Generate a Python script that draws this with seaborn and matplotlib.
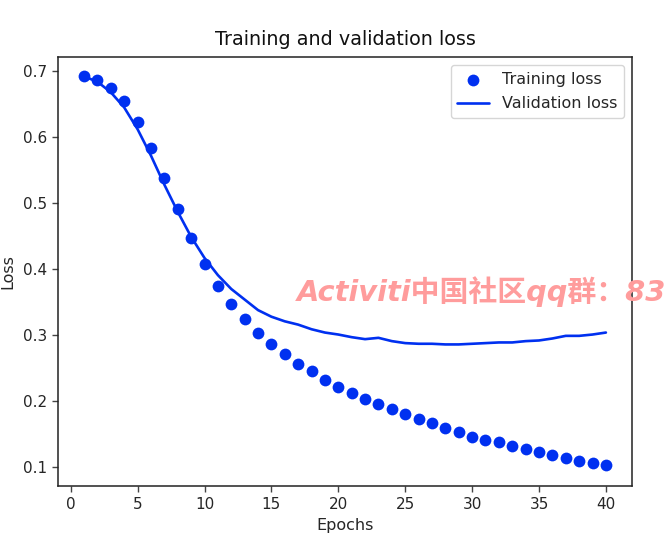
import matplotlib
matplotlib.use("Agg")
import matplotlib.pyplot as plt
import seaborn as sns

epochs = list(range(1, 41))
train_loss = [.692, .686, .674, .655, .623, .583, .538, .491, .447, .408,
              .374, .348, .324, .304, .286, .271, .256, .245, .232, .222,
              .212, .204, .195, .188, .180, .173, .167, .159, .153, .146,
              .141, .138, .132, .127, .123, .118, .114, .109, .106, .103]
val_loss = [.692, .684, .668, .645, .612, .572, .528, .487, .449, .417,
            .391, .370, .354, .338, .328, .321, .316, .309, .304, .301,
            .297, .294, .296, .291, .288, .287, .287, .286, .286, .287,
            .288, .289, .289, .291, .292, .295, .299, .299, .301, .304]

blue = "#0030f0"

sns.set_style("ticks")
plt.rcParams["font.family"] = ["DejaVu Sans"]
plt.rcParams["font.size"] = 11

fig = plt.figure(figsize=(6.72, 5.4), dpi=100)
ax = fig.add_axes([58 / 672, 54 / 540, 574 / 672, 429 / 540])

# training points and validation curve
sns.scatterplot(x=epochs, y=train_loss, ax=ax, color=blue, s=72,
                linewidth=0, label="Training loss")
sns.lineplot(x=epochs, y=val_loss, ax=ax, color=blue, linewidth=1.9,
             label="Validation loss")

ax.set_xlim(-0.95, 41.95)
ax.set_ylim(0.0715, 0.7215)
ax.set_xticks(range(0, 41, 5))
ax.set_yticks([.1, .2, .3, .4, .5, .6, .7])
ax.tick_params(labelsize=11, length=4.5, width=1, color="#444444",
               labelcolor="#262626")
for s in ax.spines.values():
    s.set_linewidth(1.1)
    s.set_color("#222222")

ax.set_title("Training and validation loss", fontsize=13.8, pad=8.5, color="#111111")
ax.set_xlabel("Epochs", fontsize=11.5, labelpad=4)
ax.set_ylabel("Loss", fontsize=11.5, labelpad=5)
ax.legend(loc="upper right", fontsize=11.5, frameon=True, labelspacing=0.6,
          borderpad=0.42)

# watermark stops at the right edge of the image
fig.text(297 / 672, 1 - 301 / 540, "Activiti中国社区qq群：83", color="#ff9c9c",
         fontsize=20.8, fontweight="bold", style="italic",
         family=["DejaVu Sans", "Noto Sans CJK SC"])

fig.savefig("out.png", dpi=100)
